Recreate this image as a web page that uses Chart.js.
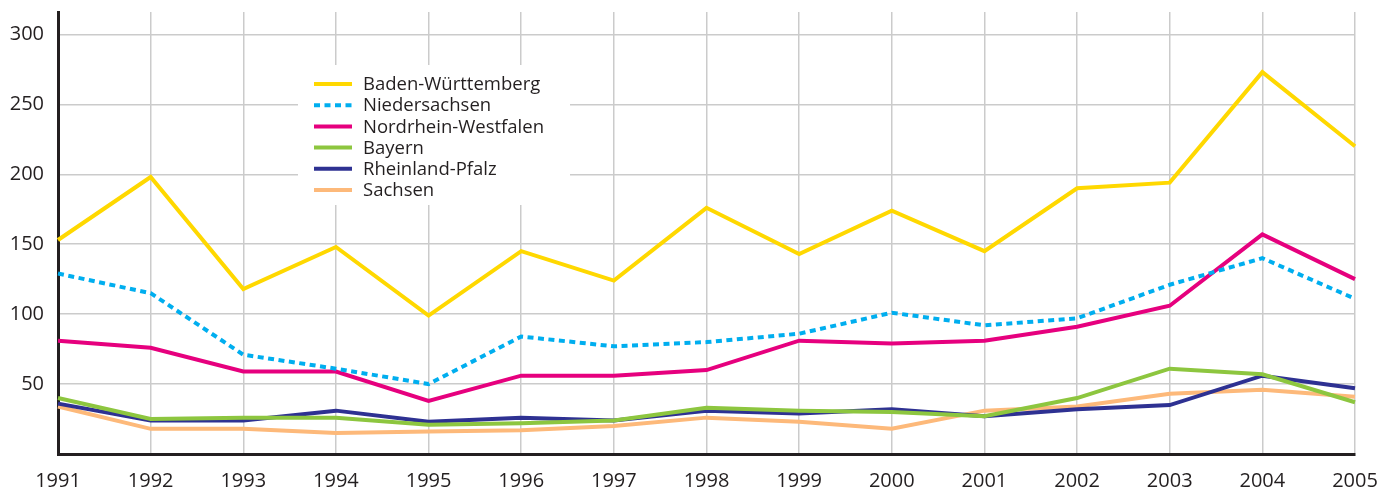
<!DOCTYPE html>
<html>
<head>
<meta charset="utf-8">
<script src="https://cdn.jsdelivr.net/npm/chart.js@4.4.1/dist/chart.umd.min.js"></script>
<style>
html,body{margin:0;padding:0;background:#fff;}
#wrap{width:1397px;height:491px;}
</style>
</head>
<body>
<div id="wrap"><canvas id="c" width="1397" height="491"></canvas></div>
<script>
const years = ['1991','1992','1993','1994','1995','1996','1997','1998','1999','2000','2001','2002','2003','2004','2005'];
const badenWuerttemberg = [153,198,118,148,99,145,124,176,143,174,145,190,194,273,220];
const niedersachsen     = [129,115,71,61,50,84,77,80,86,101,92,97,121,140,111];
const nordrheinWestfalen= [81,76,59,59,38,56,56,60,81,79,81,91,106,157,125];
const bayern            = [40,25,26,26,21,22,24,33,31,30,27,40,61,57,37];
const rheinlandPfalz    = [36,24,24,31,23,26,24,31,29,32,27,32,35,56,47];
const sachsen           = [34,18,18,15,16,17,20,26,23,18,31,34,43,46,41];
const seriesNames = ['Baden-Württemberg','Niedersachsen','Nordrhein-Westfalen','Bayern','Rheinland-Pfalz','Sachsen'];
const yTicks = [50,100,150,200,250,300];

const FONT = '"Open Sans", "DejaVu Sans", sans-serif';

const legendPlugin = {
  id: 'boxLegend',
  afterDraw(chart) {
    const ctx = chart.ctx;
    ctx.save();
    const x0 = 298, y0 = 65, w = 272, h = 140;
    ctx.fillStyle = '#ffffff';
    ctx.fillRect(x0, y0, w, h);
    const rowH = 21.2, firstY = 84;
    chart.data.datasets.forEach((ds, i) => {
      const y = firstY + i * rowH;
      ctx.beginPath();
      ctx.strokeStyle = ds.borderColor;
      ctx.lineWidth = ds.borderWidth;
      ctx.lineCap = 'butt';
      ctx.setLineDash(ds.borderDash || []);
      ctx.moveTo(314, y);
      ctx.lineTo(352, y);
      ctx.stroke();
      ctx.setLineDash([]);
      ctx.fillStyle = '#231f20';
      ctx.font = '18.5px ' + FONT;
      ctx.textBaseline = 'middle';
      ctx.textAlign = 'left';
      ctx.fillText(ds.label, 363, y + 1);
    });
    ctx.restore();
  }
};

function ds(label, data, color, dash) {
  return {
    label, data,
    borderColor: color,
    backgroundColor: color,
    borderWidth: 4,
    borderDash: dash || [],
    borderCapStyle: 'butt',
    borderJoinStyle: 'miter',
    pointRadius: 0,
    pointHoverRadius: 0,
    tension: 0,
    fill: false,
    clip: false
  };
}

new Chart(document.getElementById('c'), {
  type: 'line',
  data: {
    labels: years,
    datasets: [
      ds(seriesNames[0], badenWuerttemberg, '#ffd800'),
      ds(seriesNames[1], niedersachsen, '#00aeef', [6,4.5]),
      ds(seriesNames[2], nordrheinWestfalen, '#e6007e'),
      ds(seriesNames[3], bayern, '#8dc63f'),
      ds(seriesNames[4], rheinlandPfalz, '#2e3192'),
      ds(seriesNames[5], sachsen, '#fdb97a')
    ]
  },
  options: {
    responsive: false,
    animation: false,
    events: [],
    layout: { autoPadding: false, padding: { top: 12, right: 42, left: 0, bottom: 0 } },
    plugins: { legend: { display: false }, tooltip: { enabled: false } },
    scales: {
      x: {
        type: 'category',
        offset: false,
        grid: { color: '#cbcbcb', lineWidth: 1.5, drawTicks: false },
        border: { color: '#231f20', width: 3 },
        ticks: { color: '#231f20', font: { family: FONT, size: 20 }, padding: 15, maxRotation: 0, autoSkip: false },
        afterFit(scale) { scale.height = 37; scale.paddingLeft = 0; scale.paddingRight = 0; }
      },
      y: {
        min: 0, max: 316,
        grid: { color: '#cbcbcb', lineWidth: 1.5, drawTicks: false },
        border: { color: '#231f20', width: 3 },
        afterBuildTicks(scale) { scale.ticks = [0].concat(yTicks).map(v => ({ value: v })); },
        ticks: {
          color: '#231f20', font: { family: FONT, size: 20 }, padding: 14,
          callback: v => (v === 0 ? '' : String(v))
        },
        afterFit(scale) { scale.width = 58; scale.paddingTop = 0; scale.paddingBottom = 0; }
      }
    }
  },
  plugins: [legendPlugin]
});
</script>
</body>
</html>
